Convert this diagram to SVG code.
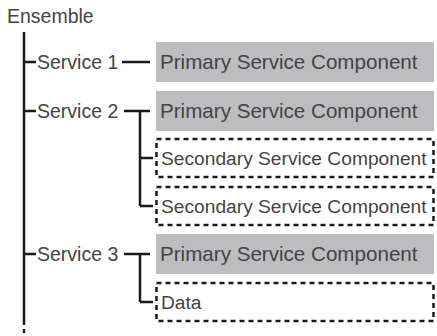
<svg xmlns="http://www.w3.org/2000/svg" width="437" height="336" viewBox="0 0 437 336">
<style>
text{font-family:"Liberation Sans",Arial,sans-serif;fill:#444444}
.lbl{font-size:19.5px}
.pri{font-size:20.6px}
.sec{font-size:19.2px}
.gray{fill:#bdbdc0}
.dash{fill:none;stroke:#1a1a1a;stroke-width:2.5;stroke-dasharray:5 4}
.ln{fill:none;stroke:#1a1a1a;stroke-width:2.5}
</style>
<rect width="437" height="336" fill="#ffffff"/>
<g id="ensemble"><text class="lbl" x="7" y="23">Ensemble</text></g>
<g id="connectors">
<path class="ln" d="M24 32V325M24 62H36M24 111H36M24 254H36"/>
<path class="ln" d="M24 329V336" stroke-dasharray="4 4"/>
<path class="ln" d="M122 62H150"/>
<path class="ln" d="M124 111H150M140 111V206M140 158H153M140 206H153"/>
<path class="ln" d="M124 254H150M140 254V302M140 302H153"/>
</g>
<g id="service1"><text class="lbl" x="37" y="69">Service 1</text></g>
<g id="service2"><text class="lbl" x="37" y="118">Service 2</text></g>
<g id="service3"><text class="lbl" x="37" y="261">Service 3</text></g>
<g id="primary1"><rect class="gray" x="156" y="42" width="278" height="40"/><text class="pri" x="160" y="69">Primary Service Component</text></g>
<g id="primary2"><rect class="gray" x="156" y="91" width="278" height="40"/><text class="pri" x="160" y="118">Primary Service Component</text></g>
<g id="secondary1"><rect class="dash" x="156.5" y="139" width="277" height="38"/><text class="sec" x="161" y="165">Secondary Service Component</text></g>
<g id="secondary2"><rect class="dash" x="156.5" y="187" width="277" height="38"/><text class="sec" x="161" y="213">Secondary Service Component</text></g>
<g id="primary3"><rect class="gray" x="156" y="234" width="278" height="40"/><text class="pri" x="160" y="261">Primary Service Component</text></g>
<g id="data"><rect class="dash" x="156.5" y="283" width="277" height="38"/><text class="sec" x="161" y="309">Data</text></g>
</svg>
